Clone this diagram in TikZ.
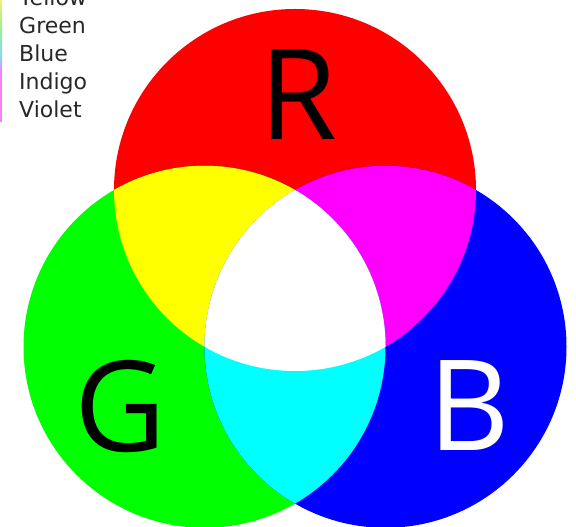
\documentclass[tikz,border=0pt]{standalone}
\usepackage{fontspec}
\setmainfont{Open Sans}
\newfontfamily\legendfont{DejaVu Sans}
\definecolor{pR}{RGB}{255,0,0}
\definecolor{pG}{RGB}{0,255,0}
\definecolor{pB}{RGB}{0,0,255}
\definecolor{pY}{RGB}{255,255,0}
\definecolor{pM}{RGB}{255,0,255}
\definecolor{pC}{RGB}{0,255,255}
\definecolor{pW}{RGB}{255,255,255}
\definecolor{txt}{RGB}{40,40,40}
\definecolor{sY}{RGB}{240,240,120}
\definecolor{sG}{RGB}{150,240,150}
\definecolor{sC}{RGB}{140,210,250}
\definecolor{sM}{RGB}{245,130,245}
\begin{document}
\begin{tikzpicture}[x=1pt,y=1pt,
  legend/.style={anchor=base west,inner sep=0pt,font=\legendfont\fontsize{22}{26}\selectfont,text=txt},
  bigletter/.style={inner sep=0pt,font=\fontsize{126}{126}\selectfont}]
\useasboundingbox (0,0) rectangle (576,527);
\clip (0,0) rectangle (576,527);
\fill[pW] (0,0) rectangle (576,527);
% circle centres
\coordinate (cr) at (295,337);
\coordinate (cg) at (204.5,180.2);
\coordinate (cb) at (385.5,180.2);
\def\rad{181}
% primaries
\fill[pR] (cr) circle[radius=\rad];
\fill[pG] (cg) circle[radius=\rad];
\fill[pB] (cb) circle[radius=\rad];
% pairwise overlaps
\begin{scope}
  \clip (cr) circle[radius=\rad];
  \fill[pY] (cg) circle[radius=\rad];
\end{scope}
\begin{scope}
  \clip (cr) circle[radius=\rad];
  \fill[pM] (cb) circle[radius=\rad];
\end{scope}
\begin{scope}
  \clip (cg) circle[radius=\rad];
  \fill[pC] (cb) circle[radius=\rad];
\end{scope}
% triple overlap
\begin{scope}
  \clip (cr) circle[radius=\rad];
  \clip (cg) circle[radius=\rad];
  \fill[pW] (cb) circle[radius=\rad];
\end{scope}
% big letters
\node[bigletter,text=black] (R) at (298,432) {R};
\node[bigletter,text=black] (G) at (120,121) {G};
\node[bigletter,text=white] (B) at (469,121) {B};
% legend strip
\shade[top color=sY,bottom color=sG] (0,527) rectangle (2,497);
\shade[top color=sG,bottom color=sC] (0,497) rectangle (2,470);
\shade[top color=sC,bottom color=sM] (0,470) rectangle (2,455);
\fill[sM] (0,455) rectangle (2,405);
% legend text
\node[legend] (lyellow) at (19,521) {Yellow};
\node[legend] (lgreen) at (19,493) {Green};
\node[legend] (lblue) at (19,465) {Blue};
\node[legend] (lindigo) at (19,437) {Indigo};
\node[legend] (lviolet) at (19,409) {Violet};
\end{tikzpicture}
\end{document}
